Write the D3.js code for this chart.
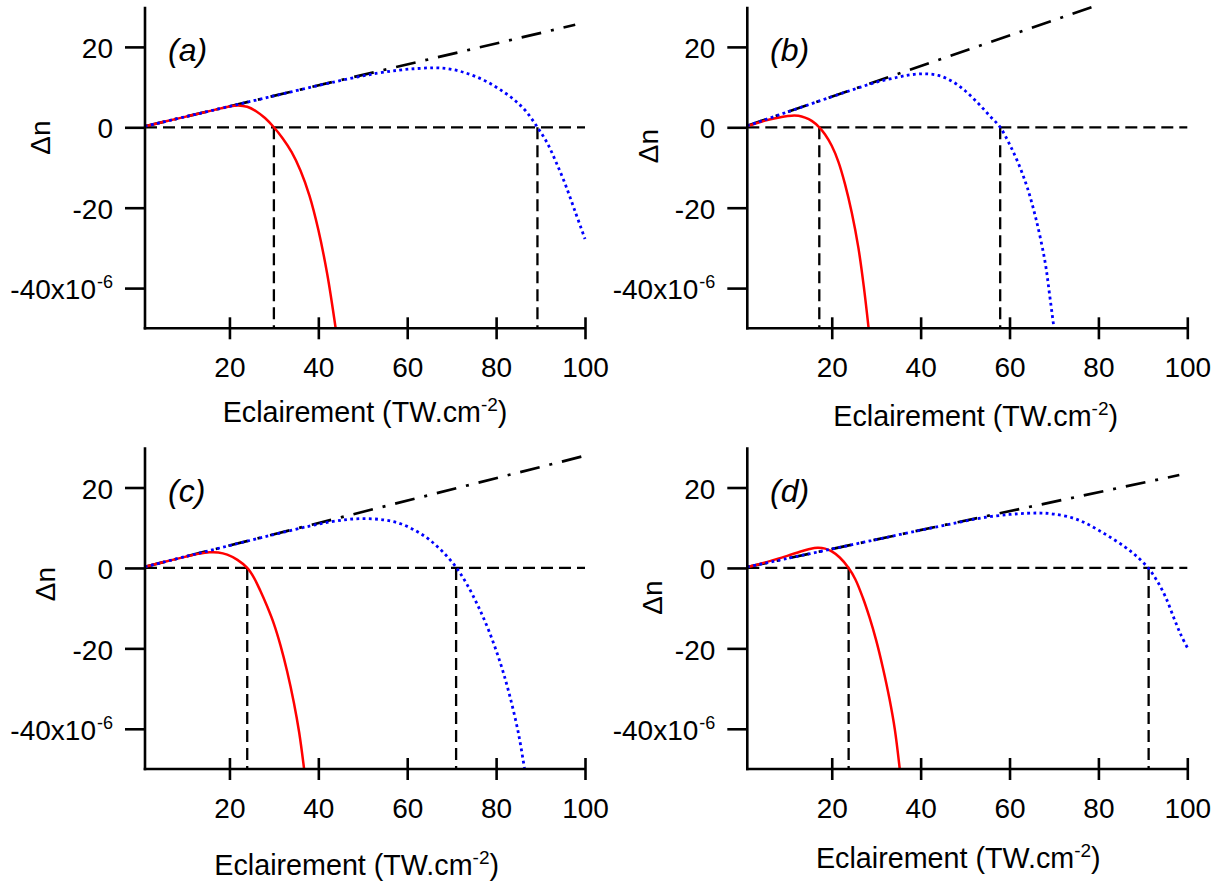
<!DOCTYPE html>
<html>
<head>
<meta charset="utf-8">
<script src="https://cdn.jsdelivr.net/npm/d3@7"></script>
<style>
  html, body { margin: 0; padding: 0; background: #fff; }
  svg { display: block; }
  text { font-family: "Liberation Sans", Arial, Helvetica, sans-serif; fill: #000; }
</style>
</head>
<body>
<svg id="chart" width="1223" height="881"></svg>
<script>
// ---------------- data ----------------
const xTicks = [20, 40, 60, 80, 100];
const yTicks = [20, 0, -20, -40];
const yTickLabels = ["20", "0", "-20", "-40x10"];
const panelLabels = ["(a)", "(b)", "(c)", "(d)"];
const xTitle = "Eclairement (TW.cm";
const yTitle = "Δn";

// (a)
const lineA = [[1, 0.26], [97.8, 25.5]];
const redA = [[1, 0.26], [5, 1.3], [10, 2.6], [15, 3.9], [18, 4.7], [20, 5.2], [22, 5.45], [24, 5.1], [26, 4.0], [28, 2.3],
  [30, 0], [32, -2.8], [34, -6.2], [36, -10.8], [38, -17], [40, -25.5], [42, -36.5], [43.9, -50]];
const blueA = [[1, 0.26], [10, 2.6], [20, 5.2], [30, 7.8], [40, 10.4], [47, 12.1], [53, 13.4], [58, 14.2], [62, 14.6],
  [66, 14.8], [69, 14.6], [72, 13.9], [75, 12.8], [78, 11.3], [81, 9.3], [84, 6.9], [86.7, 4.0], [89.3, 0], [91.5, -3.9],
  [93.5, -8.7], [95.5, -14.0], [97.7, -20.7], [100, -27.8]];
const crossA = [30, 89.3];

// (b)
const lineB = [[1, 0.38], [78.8, 30]];
const redB = [[1, 0.3], [3, 1.0], [5, 1.65], [7, 2.2], [9, 2.65], [11, 2.9], [12.5, 2.85], [14, 2.4], [15.5, 1.6], [17.2, 0],
  [18.5, -1.8], [20, -4.6], [21.5, -8.6], [23, -14.2], [24.5, -21.2], [26, -30], [27.2, -39.5], [28.3, -50]];
const blueB = [[1, 0.38], [10, 3.8], [20, 7.6], [25, 9.45], [30, 11.2], [35, 12.5], [38, 13.1], [41, 13.3], [44, 12.9],
  [47, 11.5], [50, 9.1], [53, 5.9], [55.5, 2.9], [57.9, 0], [60, -4.2], [62, -9.0], [64, -15], [66, -23], [68, -33.5],
  [69, -41.5], [70, -50]];
const crossB = [17.2, 57.9];

// (c)
const lineC = [[1, 0.28], [100, 27.9]];
const redC = [[1, 0.28], [5, 1.4], [10, 2.75], [13, 3.5], [15.5, 3.9], [17.5, 3.85], [19.5, 3.3], [21.8, 2.0], [24, 0],
  [25.5, -2.4], [27, -5.8], [28.5, -9.6], [30, -13.9], [31.5, -19.3], [33, -25.8], [34.5, -33.5], [35.7, -41], [36.8, -50]];
const blueC = [[1, 0.28], [10, 2.8], [20, 5.55], [30, 8.3], [38, 10.4], [43, 11.5], [47, 12.1], [51, 12.25], [55, 11.9],
  [58.5, 11.0], [62, 9.2], [65, 7.0], [68, 4.0], [71.1, 0], [73.5, -4.2], [76, -9.6], [78.5, -16], [81, -23.8], [83, -31.5],
  [85, -41], [86.4, -50]];
const crossC = [24, 71];

// (d)
const lineD = [[1, 0.24], [98.2, 23.1]];
const redD = [[1, 0.2], [4, 1.05], [7, 2.0], [10, 3.0], [13, 4.1], [15, 4.7], [16.8, 5.0], [18.5, 4.8], [20, 4.1], [21.8, 2.6],
  [23.8, 0], [25.3, -2.8], [27, -7.4], [28.5, -12.3], [30, -18.0], [31.5, -24.8], [33, -32.6], [34.2, -40.2], [35.3, -50]];
const blueD = [[1, 0.24], [10, 2.35], [20, 4.7], [30, 7.05], [40, 9.4], [48, 11.2], [54, 12.5], [60, 13.3], [64, 13.6],
  [67, 13.65], [70, 13.4], [74, 12.5], [77, 11.2], [80, 9.4], [83, 7.4], [86, 5.2], [88.5, 3.0], [91.2, 0], [93.2, -3.2],
  [95.1, -7.2], [97, -12.5], [98.5, -16.5], [100, -19.8]];
const crossD = [23.8, 91.3];

const xDomain = [1, 100];
const yDomain = [-50, 30];

// ---------------- layout ----------------
const panels = [
  { line: lineA, red: redA, blue: blueA, cross: crossA, x0: 145, y0: 6.7, y1: 328.3,
    title: [365, 421.7], ylab: [50, 137.5], letter: [168, 61] },
  { line: lineB, red: redB, blue: blueB, cross: crossB, x0: 747.3, y0: 6.7, y1: 328.3,
    title: [975.7, 426], ylab: [658, 146], letter: [770, 61] },
  { line: lineC, red: redC, blue: blueC, cross: crossC, x0: 145, y0: 447.3, y1: 769,
    title: [356.7, 875], ylab: [55, 584], letter: [168, 502] },
  { line: lineD, red: redD, blue: blueD, cross: crossD, x0: 747.3, y0: 447.3, y1: 769,
    title: [958.3, 868.3], ylab: [662, 597.5], letter: [770, 502] }
];
const W = 440;
const FONT = "'Liberation Sans', Arial, sans-serif";

const svg = d3.select("#chart");

panels.forEach((p, i) => {
  const x = d3.scaleLinear().domain(xDomain).range([p.x0, p.x0 + W]);
  const y = d3.scaleLinear().domain(yDomain).range([p.y1, p.y0]);
  const g = svg.append("g");

  const line = d3.line().x(d => x(d[0])).y(d => y(d[1]));
  const curve = d3.line().x(d => x(d[0])).y(d => y(d[1])).curve(d3.curveCatmullRom.alpha(0.5));

  // zero dashed horizontal line
  g.append("path")
    .attr("d", line([[xDomain[0], 0], [xDomain[1], 0]]))
    .attr("fill", "none").attr("stroke", "#000").attr("stroke-width", 2.3)
    .attr("stroke-dasharray", "12,6");

  // vertical dashed lines at zero crossings
  p.cross.forEach(c => {
    g.append("path")
      .attr("d", line([[c, 0], [c, yDomain[0]]]))
      .attr("fill", "none").attr("stroke", "#000").attr("stroke-width", 2.3)
      .attr("stroke-dasharray", "12,6");
  });

  // dash-dot linear line
  g.append("path")
    .attr("d", line(p.line))
    .attr("fill", "none").attr("stroke", "#000").attr("stroke-width", 2.7)
    .attr("stroke-dasharray", "20,10,3,10");

  // red solid curve
  g.append("path")
    .attr("d", curve(p.red))
    .attr("fill", "none").attr("stroke", "#ff0000").attr("stroke-width", 2.5);

  // blue dotted curve
  g.append("path")
    .attr("d", curve(p.blue))
    .attr("fill", "none").attr("stroke", "#0000ff").attr("stroke-width", 2.8)
    .attr("stroke-dasharray", "2.8,3.4");

  // x axis
  const xa = g.append("g")
    .attr("transform", `translate(0,${p.y1})`)
    .call(d3.axisBottom(x).tickValues(xTicks).tickSize(11).tickSizeOuter(0).tickFormat(d3.format("d")));
  xa.select(".domain").attr("stroke-width", 2.6).attr("d", `M${p.x0 - 1.3},0H${p.x0 + W}`);
  xa.selectAll(".tick line").attr("y1", -11).attr("y2", 11).attr("stroke-width", 2.6);
  xa.selectAll(".tick text").attr("y", 49).attr("dy", 0)
    .style("font-size", "28px").style("font-family", FONT);

  // y axis
  const ya = g.append("g")
    .attr("transform", `translate(${p.x0},0)`)
    .call(d3.axisLeft(y).tickValues(yTicks).tickSize(20).tickSizeOuter(0).tickPadding(12)
      .tickFormat((d, k) => yTickLabels[k]));
  ya.select(".domain").attr("stroke-width", 2.6).attr("d", `M0,${p.y0}V${p.y1 + 1.3}`);
  ya.selectAll(".tick line").attr("stroke-width", 2.6);
  ya.selectAll(".tick text").attr("dy", "0.38em")
    .style("font-size", "28px").style("font-family", FONT);
  ya.selectAll(".tick text").filter(d => d === -40)
    .append("tspan").attr("dy", "-0.6em").attr("dx", "1").style("font-size", "18px").text("-6");

  // x title
  const xt = g.append("text")
    .attr("x", p.title[0]).attr("y", p.title[1])
    .attr("text-anchor", "middle").style("font-size", "28.7px");
  xt.append("tspan").text(xTitle);
  xt.append("tspan").attr("dy", -11).style("font-size", "19px").text("-2");
  xt.append("tspan").attr("dy", 11).text(")");

  // y title
  g.append("text")
    .attr("transform", `translate(${p.ylab[0]},${p.ylab[1]}) rotate(-90)`)
    .attr("text-anchor", "middle").style("font-size", "28px").text(yTitle);

  // panel letter
  g.append("text")
    .attr("x", p.letter[0]).attr("y", p.letter[1])
    .style("font-size", "32px").style("font-style", "italic").text(panelLabels[i]);
});
</script>
</body>
</html>
